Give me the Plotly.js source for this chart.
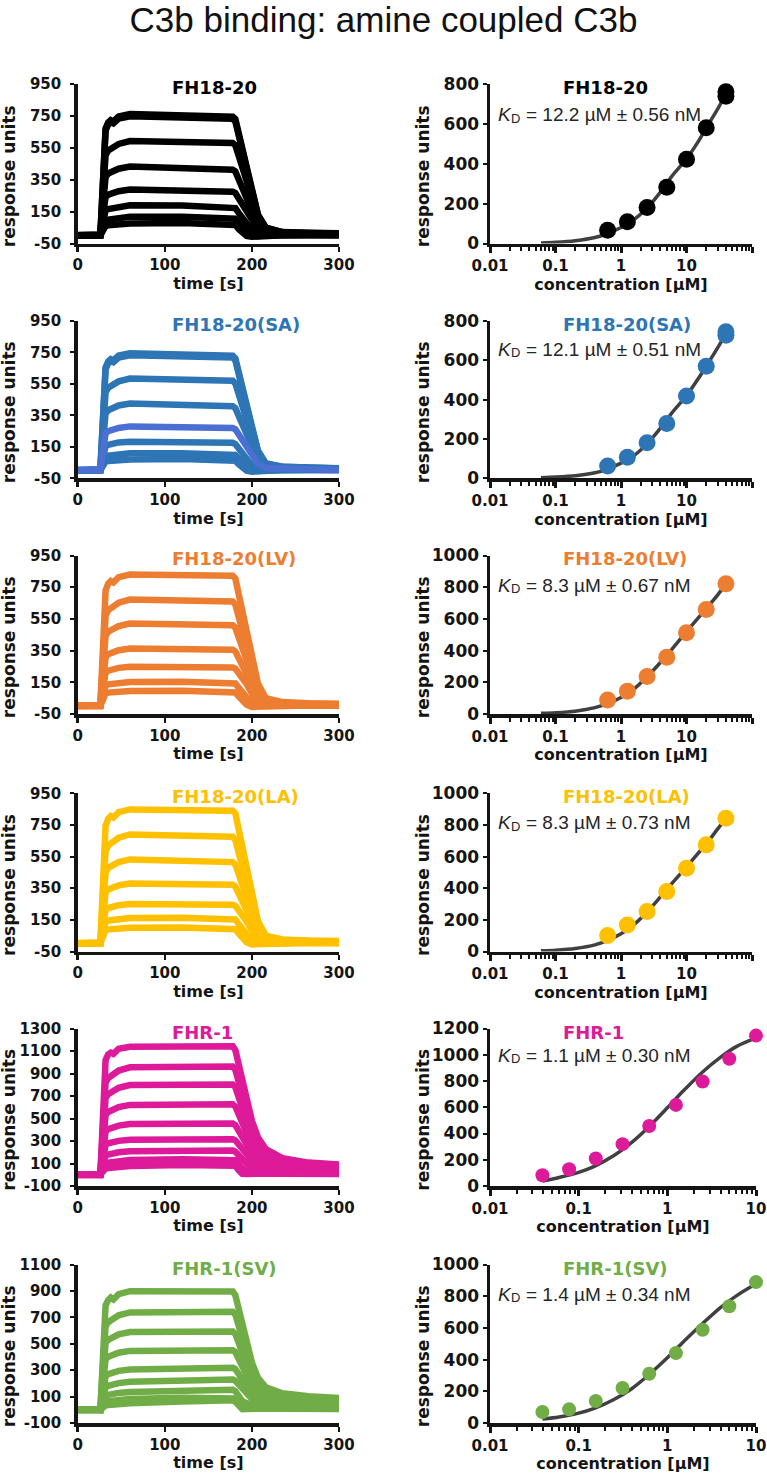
<!DOCTYPE html>
<html><head><meta charset="utf-8">
<script src="https://cdn.plot.ly/plotly-3.0.1.min.js"></script>
<style>html,body{margin:0;padding:0;background:#fff}#chart{width:767px;height:1476px}</style>
</head><body><div id="chart"></div>
<script>
// ---------------- DATA ----------------
const chartTitle = 'C3b binding: amine coupled C3b';
const panelNames = ['FH18-20', 'FH18-20(SA)', 'FH18-20(LV)', 'FH18-20(LA)', 'FHR-1', 'FHR-1(SV)'];
const panelColors = ['#000000', '#2E75B6', '#ED7D31', '#FFC000', '#DD1A99', '#70AD47'];
const kdTexts = ['12.2 µM ± 0.56 nM', '12.1 µM ± 0.51 nM', '8.3 µM ± 0.67 nM', '8.3 µM ± 0.73 nM', '1.1 µM ± 0.30 nM', '1.4 µM ± 0.34 nM'];

// sensorgram time axis [s]
const time = [0, 14, 18, 26, 28, 30, 32, 35, 38, 41, 47, 60, 120, 178, 181, 185, 189, 194, 200, 207, 216, 235, 265, 300];

const sens_FH1820 = [
  [2, 10, 4, 3, 267, 572, 671, 709, 724, 716, 747, 762, 755, 745, 730, 640, 560, 440, 290, 130, 50, 22, 17, 14],
  [0, 8, 2, 1, 262, 561, 658, 696, 711, 703, 733, 748, 740, 732, 715, 628, 550, 432, 283, 127, 48, 21, 16, 13],
  [3, 10, 4, 3, 195, 414, 503, 533, 545, 551, 574, 592, 588, 580, 566, 498, 435, 342, 215, 95, 36, 18, 14, 11],
  [1, 9, 3, 2, 143, 302, 367, 389, 397, 402, 419, 432, 425, 412, 402, 353, 305, 240, 150, 66, 25, 14, 10, 9],
  [2, 9, 3, 2, 95, 200, 242, 256, 262, 266, 278, 288, 284, 275, 267, 234, 200, 155, 95, 40, 15, 10, 8, 6],
  [0, 8, 2, 1, 63, 130, 158, 166, 170, 173, 182, 190, 188, 180, 172, 140, 110, 80, 35, 10, 3, 5, 5, 4],
  [1, 8, 2, 1, 40, 80, 95, 100, 103, 106, 112, 118, 118, 112, 105, 80, 55, 30, 8, -3, 0, 3, 3, 2],
  [0, 7, 1, 0, 25, 52, 60, 64, 66, 68, 72, 76, 78, 74, 66, 40, 15, -2, -8, -5, 0, 2, 2, 1]
];
const sens_SA = [
  [2, 10, 4, 3, 261, 559, 656, 693, 708, 700, 730, 745, 740, 730, 712, 628, 548, 430, 280, 125, 45, 24, 18, 14],
  [0, 8, 2, 1, 256, 549, 644, 681, 695, 688, 717, 732, 726, 718, 700, 617, 538, 423, 272, 120, 44, 23, 17, 13],
  [3, 10, 4, 3, 193, 409, 496, 526, 537, 543, 566, 584, 578, 570, 553, 485, 420, 330, 205, 91, 34, 19, 14, 11],
  [1, 9, 3, 2, 141, 298, 362, 383, 392, 396, 413, 426, 420, 408, 396, 347, 300, 235, 147, 65, 24, 14, 10, 8],
  [0, 8, 2, 1, 60, 128, 155, 163, 167, 170, 178, 183, 182, 176, 168, 137, 108, 78, 32, 10, 3, 5, 5, 4],
  [1, 8, 2, 1, 36, 74, 88, 93, 96, 99, 104, 109, 110, 105, 98, 75, 52, 28, 8, -3, 0, 3, 3, 2],
  [0, 7, 1, 0, 23, 48, 56, 60, 62, 64, 67, 70, 72, 69, 62, 38, 14, -2, -8, -5, 0, 2, 2, 1],
  [2, 9, 3, 2, 92, 195, 236, 250, 256, 259, 270, 280, 277, 270, 262, 230, 195, 151, 97, 43, 16, 9, 7, 5]
];
const sens_LV = [
  [2, 10, 4, 3, 290, 622, 730, 772, 789, 780, 813, 830, 828, 822, 805, 707, 616, 485, 315, 140, 50, 25, 18, 15],
  [0, 8, 2, 1, 222, 470, 571, 605, 618, 625, 652, 672, 668, 660, 641, 561, 485, 380, 245, 106, 40, 20, 15, 12],
  [3, 10, 4, 3, 172, 365, 443, 469, 479, 485, 505, 521, 518, 510, 495, 434, 372, 291, 184, 82, 31, 16, 12, 10],
  [1, 9, 3, 2, 120, 254, 309, 327, 334, 338, 352, 363, 362, 356, 345, 303, 256, 203, 128, 57, 21, 11, 9, 7],
  [2, 9, 3, 2, 82, 174, 211, 223, 228, 231, 241, 248, 248, 244, 236, 207, 176, 139, 80, 30, 10, 8, 6, 5],
  [0, 8, 2, 1, 50, 106, 129, 137, 140, 142, 147, 152, 154, 150, 142, 115, 85, 55, 22, 5, 2, 5, 5, 4],
  [1, 8, 2, 1, 31, 66, 80, 85, 87, 89, 92, 95, 97, 95, 86, 60, 30, 8, -5, -4, 0, 3, 3, 2]
];
const sens_LA = [
  [2, 10, 4, 3, 297, 636, 746, 789, 806, 797, 831, 848, 845, 840, 823, 722, 630, 496, 320, 140, 50, 26, 19, 16],
  [0, 8, 2, 1, 228, 483, 586, 621, 634, 641, 669, 690, 683, 675, 655, 574, 486, 385, 250, 108, 41, 21, 16, 13],
  [3, 10, 4, 3, 176, 372, 452, 479, 489, 495, 515, 532, 525, 515, 500, 438, 371, 294, 185, 82, 31, 16, 12, 10],
  [1, 9, 3, 2, 125, 265, 322, 342, 349, 353, 368, 380, 377, 372, 361, 316, 268, 212, 134, 60, 22, 12, 9, 7],
  [2, 9, 3, 2, 83, 175, 213, 225, 230, 233, 243, 250, 250, 246, 238, 209, 177, 140, 81, 30, 10, 8, 6, 5],
  [0, 8, 2, 1, 53, 113, 138, 146, 149, 152, 157, 162, 163, 160, 152, 123, 91, 59, 24, 5, 2, 5, 5, 4],
  [1, 8, 2, 1, 33, 70, 85, 90, 92, 94, 97, 100, 102, 100, 91, 63, 32, 8, -5, -4, 0, 3, 3, 2]
];
const sens_FHR1 = [
  [0, 8, 2, 0, 342, 798, 1020, 1070, 1085, 1075, 1120, 1138, 1145, 1142, 1108, 971, 822, 662, 480, 331, 228, 148, 108, 91],
  [-2, 6, 0, -2, 290, 676, 820, 859, 878, 888, 926, 955, 965, 962, 933, 818, 693, 558, 404, 279, 192, 125, 91, 77],
  [0, 8, 2, 0, 242, 564, 684, 716, 733, 741, 773, 797, 805, 803, 779, 683, 578, 466, 337, 233, 161, 104, 76, 64],
  [-1, 7, 1, -1, 188, 439, 533, 558, 571, 577, 602, 621, 627, 626, 607, 532, 451, 363, 263, 182, 125, 81, 59, 50],
  [0, 8, 2, 0, 137, 319, 387, 405, 414, 419, 437, 450, 456, 455, 441, 387, 328, 264, 191, 132, 91, 59, 43, 36],
  [-2, 6, 0, -2, 94, 220, 267, 279, 286, 289, 301, 311, 316, 316, 306, 269, 220, 175, 125, 88, 62, 41, 30, 25],
  [0, 7, 1, 0, 60, 140, 170, 180, 186, 190, 200, 208, 215, 216, 205, 170, 130, 100, 72, 52, 38, 28, 20, 17],
  [-1, 6, 0, -1, 35, 82, 100, 108, 112, 116, 124, 130, 138, 140, 130, 95, 55, 40, 35, 28, 22, 17, 13, 11],
  [0, 7, 1, 0, 20, 45, 55, 60, 63, 66, 72, 78, 86, 90, 80, 40, 8, 6, 10, 12, 11, 9, 7, 6]
];
const sens_SV = [
  [0, 8, 2, 0, 270, 630, 790, 830, 850, 835, 875, 898, 900, 895, 868, 770, 653, 519, 358, 242, 170, 125, 103, 90],
  [-2, 6, 0, -2, 224, 522, 633, 663, 678, 685, 715, 737, 745, 742, 720, 638, 542, 430, 297, 200, 141, 104, 85, 74],
  [0, 8, 2, 0, 179, 417, 506, 530, 541, 547, 571, 589, 595, 593, 575, 510, 433, 344, 237, 160, 113, 83, 68, 59],
  [-1, 7, 1, -1, 135, 315, 383, 401, 410, 414, 432, 446, 451, 450, 437, 387, 329, 261, 180, 122, 86, 63, 52, 45],
  [0, 8, 2, 0, 90, 210, 255, 270, 278, 282, 295, 305, 315, 318, 308, 273, 225, 180, 125, 85, 60, 45, 37, 32],
  [-2, 6, 0, -2, 60, 140, 170, 182, 188, 192, 202, 212, 225, 230, 220, 190, 150, 115, 82, 60, 45, 34, 28, 24],
  [0, 7, 1, 0, 38, 88, 105, 113, 118, 121, 128, 135, 147, 152, 140, 105, 65, 50, 42, 35, 28, 23, 19, 16],
  [-1, 6, 0, -1, 22, 50, 60, 65, 68, 71, 76, 81, 92, 97, 85, 50, 20, 18, 20, 19, 17, 14, 11, 10],
  [0, 7, 1, 0, 12, 28, 33, 36, 38, 40, 44, 50, 62, 72, 60, 28, 5, 6, 9, 10, 9, 8, 7, 6]
];
// special highlighted curve colour in the SA panel (last curve)
const saHighlightColor = '#4B6FD2';

// steady-state responses [RU] vs concentration [µM]
const conc_FH = [0.625, 1.25, 2.5, 5, 10, 20, 40, 40];
const ru_FH1820 = [67, 109, 181, 282, 422, 580, 739, 761];
const ru_SA = [63, 107, 181, 279, 418, 570, 728, 745];
const conc_FH7 = [0.625, 1.25, 2.5, 5, 10, 20, 40];
const ru_LV = [88, 143, 236, 358, 512, 659, 821];
const ru_LA = [101, 168, 253, 379, 526, 674, 842];
const conc_FHR = [0.039, 0.078, 0.156, 0.3125, 0.625, 1.25, 2.5, 5, 10];
const ru_FHR1 = [82, 128, 209, 319, 457, 618, 796, 970, 1146];
const ru_SV = [69, 86, 139, 221, 311, 441, 588, 737, 889];

// fitted binding curves
const fitConc_FH = [0.06, 0.1, 0.2, 0.4, 0.625, 1, 1.5, 2.5, 4, 6, 10, 15, 20, 30, 40];
const fit_FH1820 = [3, 6, 14, 30, 50, 80, 114, 178, 258, 338, 425, 510, 580, 675, 752];
const fit_SA = [3, 6, 13, 28, 47, 77, 110, 175, 255, 333, 420, 505, 570, 665, 735];
const fit_LV = [4, 8, 18, 40, 65, 104, 150, 235, 325, 410, 520, 605, 665, 752, 821];
const fit_LA = [4, 8, 19, 42, 70, 112, 162, 250, 345, 430, 535, 620, 680, 775, 842];
const fitConc_FHR = [0.039, 0.06, 0.1, 0.15, 0.25, 0.4, 0.6, 1, 1.5, 2.5, 4, 6, 10];
const fit_FHR1 = [38, 65, 104, 150, 232, 334, 442, 596, 722, 869, 982, 1062, 1128];
const fit_SV = [25, 38, 62, 92, 148, 218, 298, 412, 510, 628, 730, 802, 878];

// tick labels and axis titles
const timeTicks = [0, 100, 200, 300];
const ruTicksFH = [-50, 150, 350, 550, 750, 950];
const ruTicksFHR1 = [-100, 100, 300, 500, 700, 900, 1100, 1300];
const ruTicksSV = [-100, 100, 300, 500, 700, 900, 1100];
const ruTicks800 = [0, 200, 400, 600, 800];
const ruTicks1000 = [0, 200, 400, 600, 800, 1000];
const ruTicks1200 = [0, 200, 400, 600, 800, 1000, 1200];
const logTicks4 = [0.01, 0.1, 1, 10, 100];
const logTickText4 = ['0.01', '0.1', '1', '10', '100'];
const logTicks3 = [0.01, 0.1, 1, 10];
const logTickText3 = ['0.01', '0.1', '1', '10'];
const timeTitle = 'time [s]';
const concTitle = 'concentration [µM]';
const ruTitle = 'response units';

// ---------------- BUILD ----------------
const W = 767, H = 1476;
const BOLD = '"DejaVu Sans", "Liberation Sans", sans-serif';
const REG = '"Liberation Sans", Arial, sans-serif';
const INK = '#141414';
const FIT = '#404040';

const sensSets = [sens_FH1820, sens_SA, sens_LV, sens_LA, sens_FHR1, sens_SV];
const concSets = [conc_FH, conc_FH, conc_FH7, conc_FH7, conc_FHR, conc_FHR];
const ruSets = [ru_FH1820, ru_SA, ru_LV, ru_LA, ru_FHR1, ru_SV];
const fitXSets = [fitConc_FH, fitConc_FH, fitConc_FH, fitConc_FH, fitConc_FHR, fitConc_FHR];
const fitYSets = [fit_FH1820, fit_SA, fit_LV, fit_LA, fit_FHR1, fit_SV];
const leftTickSets = [ruTicksFH, ruTicksFH, ruTicksFH, ruTicksFH, ruTicksFHR1, ruTicksSV];
const rightTickSets = [ruTicks800, ruTicks800, ruTicks1000, ruTicks1000, ruTicks1200, ruTicks1000];

// layout geometry (pixels)
const rowPx = [[84, 243.5], [321, 478.3], [555.5, 714], [793.3, 951.5], [1028.5, 1186], [1264.5, 1423]];
const leftPx = [77.7, 339];
const rightPx4 = [490, 752];
const rightPx3 = [490, 756];
const kdOffsets = [31.8, 29, 30.5, 30, 27.5, 30.5];

const traces = [];
const layout = {
  width: W, height: H,
  margin: {l: 0, r: 0, t: 0, b: 0},
  paper_bgcolor: '#ffffff', plot_bgcolor: 'rgba(0,0,0,0)',
  showlegend: false,
  title: {text: chartTitle, x: 0.5, xanchor: 'center', y: 1 - 20 / H, yanchor: 'middle',
    font: {family: REG, size: 35, color: '#111111'}},
  annotations: []
};

const tickFont = {family: BOLD, size: 15, color: INK, weight: 700};
const rightYTickFont = {family: BOLD, size: 17, color: INK, weight: 700};
const xTitleFont = {family: BOLD, size: 16, color: INK, weight: 700};
const yTitleFont = {family: BOLD, size: 17, color: INK, weight: 700};
const fmt = v => String(v);
const P = (px) => px / W;
const Q = (py) => 1 - py / H;

for (let i = 0; i < 6; i++) {
  const L = 2 * i + 1, R = 2 * i + 2;
  const lx = 'x' + (L === 1 ? '' : L), ly = 'y' + (L === 1 ? '' : L);
  const rx = 'x' + R, ry = 'y' + R;
  const ydom = [Q(rowPx[i][1]), Q(rowPx[i][0])];
  const col = panelColors[i];
  const logRange = i < 4 ? [-2, 2] : [-2, 1];
  const rpx = i < 4 ? rightPx4 : rightPx3;

  // sensorgram traces
  sensSets[i].forEach((ys, k) => {
    const c = (i === 1 && k === sensSets[i].length - 1) ? saHighlightColor : col;
    traces.push({type: 'scatter', mode: 'lines', x: time, y: ys, xaxis: lx, yaxis: ly,
      line: {color: c, width: 6.5}, hoverinfo: 'skip'});
  });
  // fit curve
  traces.push({type: 'scatter', mode: 'lines', x: fitXSets[i], y: fitYSets[i], xaxis: rx, yaxis: ry,
    line: {color: FIT, width: 3.5, shape: 'spline', smoothing: 0.8}, hoverinfo: 'skip'});
  // data points
  traces.push({type: 'scatter', mode: 'markers', x: concSets[i], y: ruSets[i], xaxis: rx, yaxis: ry,
    cliponaxis: false,
    marker: {color: col, size: i < 4 ? 17 : 14, line: {width: 0}}});

  const commonAxis = {showline: true, linewidth: 3.5, linecolor: INK, showgrid: false, zeroline: false,
    ticks: 'outside', tickcolor: INK, tickfont: tickFont, fixedrange: true, automargin: false};

  layout['xaxis' + (L === 1 ? '' : L)] = Object.assign({}, commonAxis, {
    domain: [P(leftPx[0]), P(leftPx[1])], anchor: ly, range: [0, 300],
    tickmode: 'array', tickvals: timeTicks, ticktext: timeTicks.map(fmt), ticklen: 5, tickwidth: 2.5, ticklabelstandoff: 0,
    title: {text: timeTitle, font: xTitleFont, standoff: 4}
  });
  const lt = leftTickSets[i];
  layout['yaxis' + (L === 1 ? '' : L)] = Object.assign({}, commonAxis, {
    domain: ydom, anchor: lx, range: [lt[0], lt[lt.length - 1]],
    tickmode: 'array', tickvals: lt, ticktext: lt.map(fmt), ticklen: 4, tickwidth: 2, ticklabelstandoff: 6
  });
  const minorVals = [];
  for (let d = logRange[0]; d < logRange[1]; d++) {
    for (let m = 2; m <= 9; m++) minorVals.push(m * Math.pow(10, d));
  }
  layout['xaxis' + R] = Object.assign({}, commonAxis, {
    domain: [P(rpx[0]), P(rpx[1])], anchor: ry, type: 'log', range: logRange,
    tickmode: 'array', tickvals: i < 4 ? logTicks4 : logTicks3, ticktext: i < 4 ? logTickText4 : logTickText3,
    ticklen: 6, tickwidth: 3, ticklabelstandoff: 0,
    minor: {tickmode: 'array', tickvals: minorVals, ticks: 'outside', ticklen: 4, tickwidth: 2, tickcolor: INK, showgrid: false},
    title: {text: concTitle, font: xTitleFont, standoff: 4}
  });
  const rt = rightTickSets[i];
  layout['yaxis' + R] = Object.assign({}, commonAxis, {
    domain: ydom, anchor: rx, range: [rt[0], rt[rt.length - 1]], tickfont: rightYTickFont,
    tickmode: 'array', tickvals: rt, ticktext: rt.map(fmt), ticklen: 4, tickwidth: 2, ticklabelstandoff: 0
  });

  // y-axis titles (placed as rotated text so they sit where the reference has them)
  const yMid = (rowPx[i][0] + rowPx[i][1]) / 2 + 12.5;
  [9, 423].forEach(xc => {
    layout.annotations.push({xref: 'paper', yref: 'paper', x: P(xc), y: Q(yMid), xanchor: 'center', yanchor: 'middle',
      textangle: -90, showarrow: false, text: ruTitle, font: yTitleFont});
  });

  // panel titles
  const hpx = rowPx[i][1] - rowPx[i][0];
  layout.annotations.push({xref: lx + ' domain', yref: ly + ' domain', x: (170 - leftPx[0]) / (leftPx[1] - leftPx[0]),
    y: 1 - 3.5 / hpx, xanchor: 'left', yanchor: 'middle', showarrow: false, text: panelNames[i],
    font: {family: BOLD, size: 18, color: col, weight: 700}});
  layout.annotations.push({xref: rx + ' domain', yref: ry + ' domain', x: (561 - rpx[0]) / (rpx[1] - rpx[0]),
    y: 1 - 3.5 / hpx, xanchor: 'left', yanchor: 'middle', showarrow: false, text: panelNames[i],
    font: {family: BOLD, size: 18, color: col, weight: 700}});

  // K_D annotation: italic K, subscript D, then the value
  const kdY = rowPx[i][0] + kdOffsets[i] - 1;
  layout.annotations.push({xref: 'paper', yref: 'paper', x: P(496), y: Q(kdY), xanchor: 'left', yanchor: 'middle',
    showarrow: false, text: 'K', font: {family: REG, size: 19, color: '#262626', style: 'italic'}});
  layout.annotations.push({xref: 'paper', yref: 'paper', x: P(509), y: Q(kdY + 3.8), xanchor: 'left', yanchor: 'middle',
    showarrow: false, text: 'D', font: {family: REG, size: 13, color: '#262626'}});
  layout.annotations.push({xref: 'paper', yref: 'paper', x: P(524), y: Q(kdY), xanchor: 'left', yanchor: 'middle',
    showarrow: false, text: '= ' + kdTexts[i], font: {family: REG, size: 19, color: '#262626'}});
}

Plotly.newPlot('chart', traces, layout, {staticPlot: true, displayModeBar: false});
</script>
</body></html>
